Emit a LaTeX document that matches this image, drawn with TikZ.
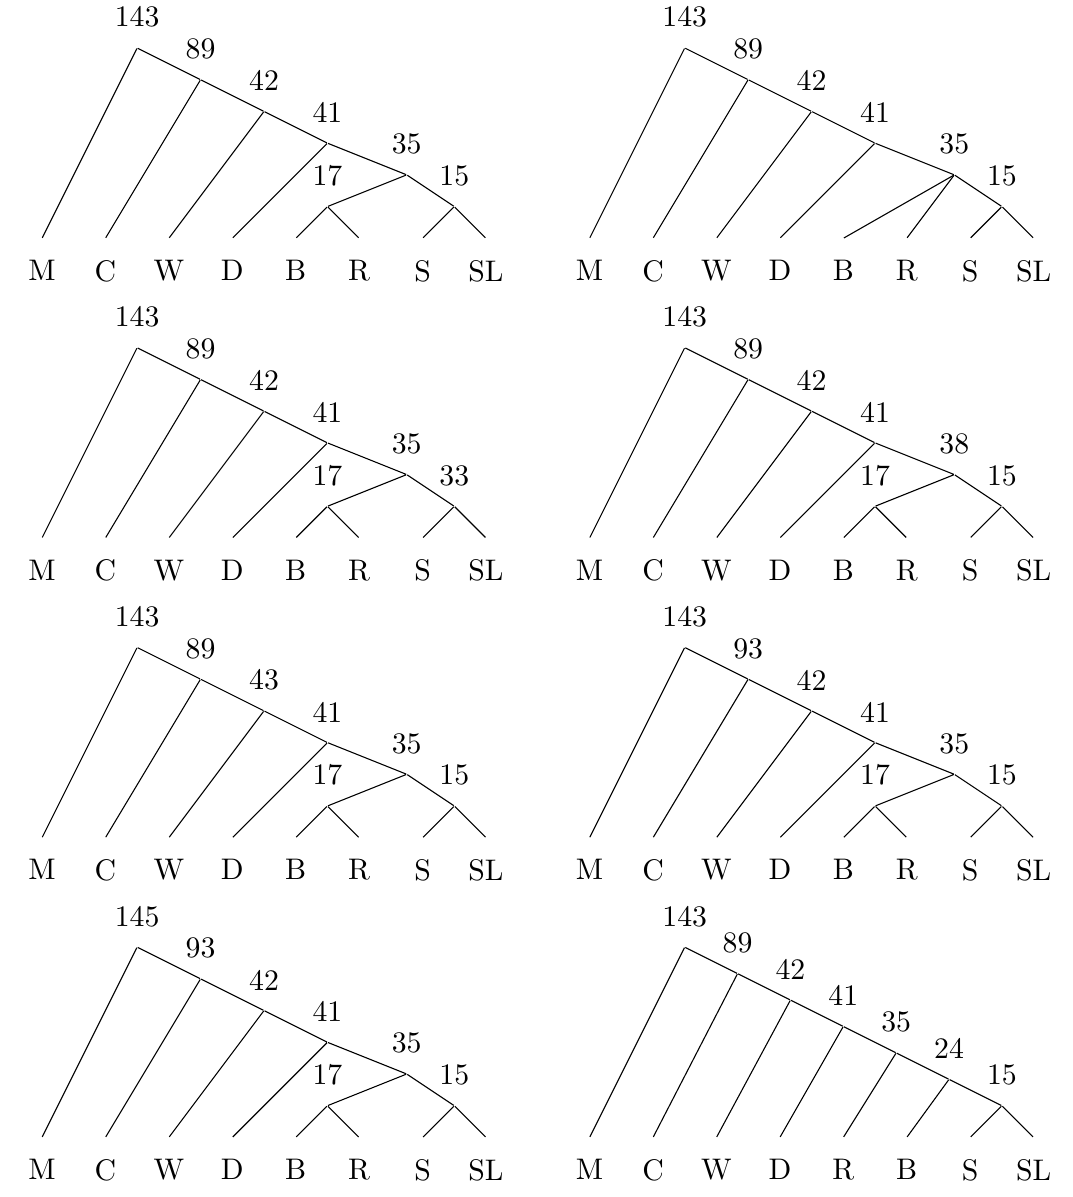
\documentclass[tikz,border=0pt]{standalone}
\usepackage{tikz}
\usetikzlibrary{positioning}

\begin{document}
\begin{tikzpicture}[x=0.82cm, y=0.82cm,
    vert/.style={inner sep=0pt, minimum size=0pt},
    every label/.style={font=\fontsize{10.95}{13.6}\selectfont},
    tag/.style={label={[label distance=3.8pt]above:#1}},
    leaf/.style={label={[label distance=4.3pt]below:#1}}]
    \useasboundingbox (-0.662,3.757) rectangle (16.254,-15.114);

    % trees with the same shape, only the numbers change
    \foreach \col/\row/\ta/\tb/\tc/\td/\te/\tf in {0/0/143/89/42/41/35/15, 0/1/143/89/42/41/35/33,
        1/1/143/89/42/41/38/15, 0/2/143/89/43/41/35/15, 1/2/143/93/42/41/35/15, 0/3/145/93/42/41/35/15} {
    \begin{scope}[shift={(\col*8.633,-\row*4.725)}]
        \foreach \name [count=\i from 0] in {M,C,W,D,B,R,S,SL}
            \node[vert, leaf=\name] (\name) at (\i,0) {};
        \node[vert, tag=\ta] (v1) at (1.5,3) {};
        \node[vert, tag=\tb] (v2) at (2.5,2.5) {};
        \node[vert, tag=\tc] (v3) at (3.5,2) {};
        \node[vert, tag=\td] (v4) at (4.5,1.5) {};
        \node[vert, tag=\te] (v5) at (5.75,1) {};
        \node[vert, tag=17] (v6) at (4.5,0.5) {};
        \node[vert, tag=\tf] (v7) at (6.5,0.5) {};

        \draw (v1) -- (M);
        \draw (v1) -- (v2) -- (C);
        \draw (v2) -- (v3) -- (W);
        \draw (v3) -- (v4) -- (D);
        \draw (v4) -- (v5) -- (v6);
        \draw (v5) -- (v7);
        \draw (v6) -- (B);
        \draw (v6) -- (R);
        \draw (v7) -- (S);
        \draw (v7) -- (SL);
    \end{scope}
    }

    % B and R hang from 35 directly
    \begin{scope}[shift={(8.633,0)}]
        \foreach \name [count=\i from 0] in {M,C,W,D,B,R,S,SL}
            \node[vert, leaf=\name] (\name) at (\i,0) {};
        \node[vert, tag=143] (v1) at (1.5,3) {};
        \node[vert, tag=89] (v2) at (2.5,2.5) {};
        \node[vert, tag=42] (v3) at (3.5,2) {};
        \node[vert, tag=41] (v4) at (4.5,1.5) {};
        \node[vert, tag=35] (v5) at (5.75,1) {};
        \node[vert, tag=15] (v7) at (6.5,0.5) {};

        \draw (v1) -- (M);
        \draw (v1) -- (v2) -- (C);
        \draw (v2) -- (v3) -- (W);
        \draw (v3) -- (v4) -- (D);
        \draw (v4) -- (v5) -- (v7);
        \draw (v5) -- (B);
        \draw (v5) -- (R);
        \draw (v7) -- (S);
        \draw (v7) -- (SL);
    \end{scope}

    % one long spine
    \begin{scope}[shift={(8.633,-3*4.725)}]
        \foreach \name [count=\i from 0] in {M,C,W,D,R,B,S,SL}
            \node[vert, leaf=\name] (\name) at (\i,0) {};
        \foreach \t [count=\k from 0] in {143,89,42,41,35,24,15}
            \node[vert, tag=\t] (v\k) at ({1.5+\k*5/6},{3-\k*5/12}) {};

        \draw (v0) -- (v1) -- (v2) -- (v3) -- (v4) -- (v5) -- (v6);
        \foreach \name [count=\k from 0] in {M,C,W,D,R,B,S}
            \draw (v\k) -- (\name);
        \draw (v6) -- (SL);
    \end{scope}
\end{tikzpicture}
\end{document}
